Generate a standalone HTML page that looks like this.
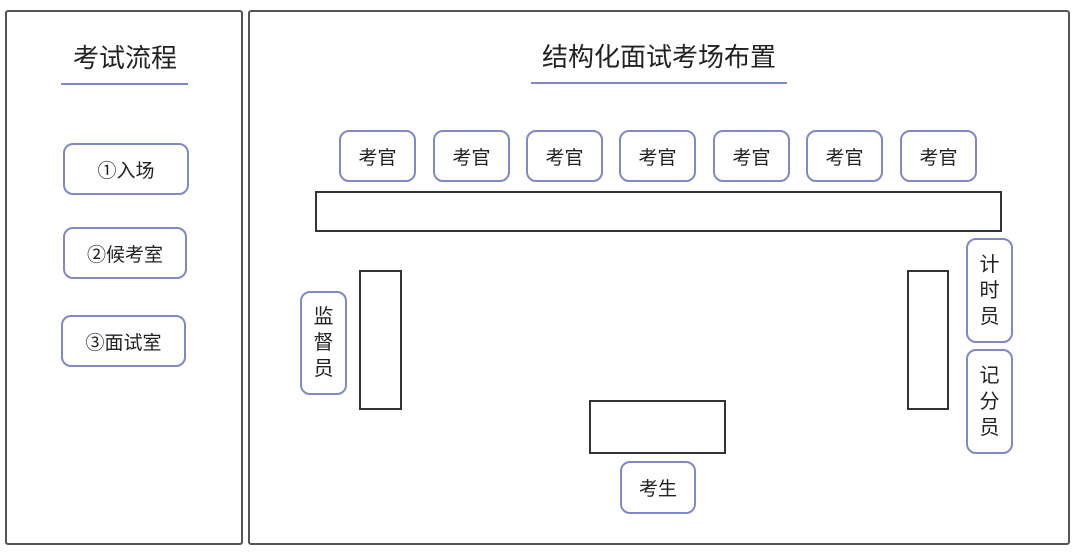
<!DOCTYPE html>
<html><head><meta charset="utf-8"><style>
body{margin:0;width:1080px;height:553px;background:#fff;position:relative;overflow:hidden;font-family:"Liberation Sans","Noto Sans CJK SC",sans-serif;color:#222}
div{position:absolute;box-sizing:border-box}
.panel{border:2px solid #555;border-radius:3px}
.b{border:2px solid #8088c8;border-radius:10px;display:flex;align-items:center;justify-content:center;font-size:19px;background:#fff}
.v{flex-direction:column;line-height:26px;font-size:20px}
.d{border:2px solid #333}
.t{font-size:26px;text-align:center}
.u{height:2px;background:#7f86c9}
</style></head><body>
<div class="panel" style="left:5px;top:10px;width:238px;height:535px"></div>
<div class="panel" style="left:248px;top:10px;width:822px;height:535px"></div>
<div class="t" style="left:25px;top:38px;width:200px">考试流程</div>
<div class="u" style="left:61px;top:83px;width:127px"></div>
<div class="t" style="left:459px;top:37px;width:400px">结构化面试考场布置</div>
<div class="u" style="left:531px;top:82px;width:256px"></div>
<div class="b" style="left:63px;top:143px;width:126px;height:52px">①入场</div>
<div class="b" style="left:63px;top:227px;width:124px;height:52px">②候考室</div>
<div class="b" style="left:61px;top:315px;width:125px;height:52px">③面试室</div>
<div class="b" style="left:339px;top:130px;width:77px;height:52px">考官</div>
<div class="b" style="left:433px;top:130px;width:77px;height:52px">考官</div>
<div class="b" style="left:526px;top:130px;width:77px;height:52px">考官</div>
<div class="b" style="left:619px;top:130px;width:77px;height:52px">考官</div>
<div class="b" style="left:713px;top:130px;width:77px;height:52px">考官</div>
<div class="b" style="left:806px;top:130px;width:77px;height:52px">考官</div>
<div class="b" style="left:900px;top:130px;width:77px;height:52px">考官</div>
<div class="d" style="left:315px;top:191px;width:687px;height:41px"></div>
<div class="d" style="left:359px;top:270px;width:43px;height:140px"></div>
<div class="d" style="left:907px;top:270px;width:42px;height:140px"></div>
<div class="d" style="left:589px;top:400px;width:137px;height:54px"></div>
<div class="b v" style="left:300px;top:291px;width:47px;height:104px">监<br>督<br>员</div>
<div class="b v" style="left:966px;top:238px;width:47px;height:105px">计<br>时<br>员</div>
<div class="b v" style="left:966px;top:349px;width:47px;height:105px">记<br>分<br>员</div>
<div class="b" style="left:620px;top:461px;width:76px;height:53px">考生</div>
</body></html>
